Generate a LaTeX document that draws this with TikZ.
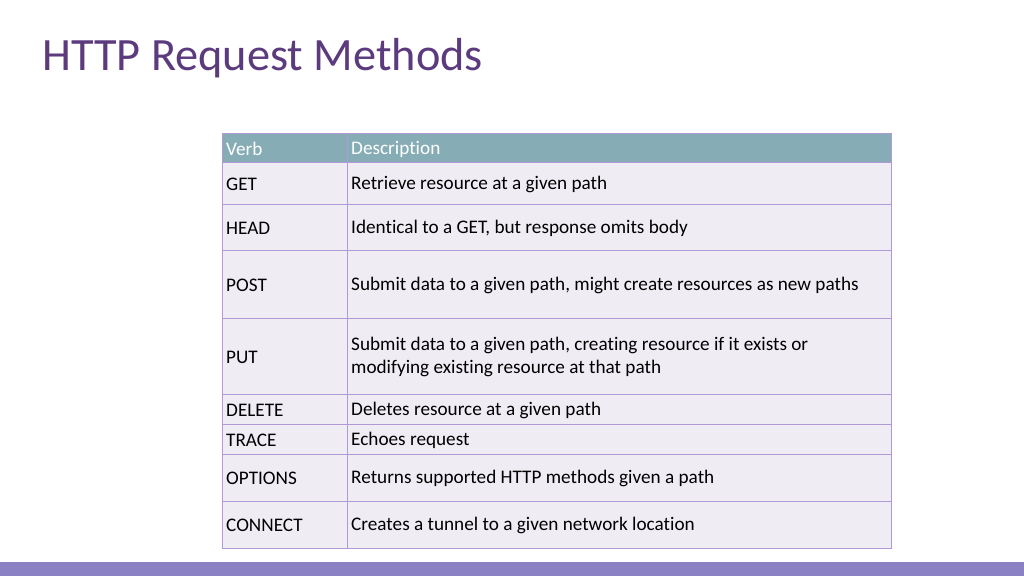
\documentclass[tikz,border=0pt]{standalone}
\usepackage{fontspec}
\setmainfont[RawFeature=-liga]{Carlito}
\definecolor{ttl}{HTML}{5C3A7E}
\definecolor{hdr}{HTML}{86ADB5}
\definecolor{rowf}{HTML}{EFECF4}
\definecolor{brd}{HTML}{B09AD6}
\definecolor{bar}{HTML}{8A80C4}
\begin{document}
\begin{tikzpicture}[x=1pt,y=-1pt,
 cell/.style={fill=rowf,draw=brd,line width=0.8pt},
 hcell/.style={fill=hdr,draw=brd,line width=0.8pt},
 txt/.style={anchor=west,inner sep=0pt,font=\fontsize{19.2}{23}\selectfont,align=left},
 htxt/.style={txt,text=white}]
\useasboundingbox (0,0) rectangle (1024,576);
\fill[white] (0,0) rectangle (1024,576);
\fill[bar] (0,562) rectangle (1024,576);
\node[anchor=base west,inner sep=0pt,text=ttl,font=\fontsize{46.3}{52}\selectfont] (title) at (42,70) {HTTP Request Methods};
\draw[hcell] (222,133) rectangle (347,162);
\draw[hcell] (347,133) rectangle (891,162);
\node[htxt] (h1) at (226,149) {Verb};
\node[htxt] (h2) at (351,149) {Description};
\foreach \a/\b/\v/\d [count=\i] in {
 162/204/GET/Retrieve resource at a given path,
 204/250/HEAD/{Identical to a GET, but response omits body},
 250/318/POST/{Submit data to a given path, might create resources as new paths},
 318/394/PUT/{Submit data to a given path, creating resource if it exists or\\modifying existing resource at that path},
 394/424/DELETE/Deletes resource at a given path,
 424/454/TRACE/Echoes request,
 454/501/OPTIONS/Returns supported HTTP methods given a path,
 501/548/CONNECT/Creates a tunnel to a given network location}{
 \draw[cell] (222,\a) rectangle (347,\b);
 \draw[cell] (347,\a) rectangle (891,\b);
 \node[txt] (v\i) at (226,{(\a+\b)/2+1}) {\v};
 \node[txt] (d\i) at (351,{(\a+\b)/2+1}) {\d};
}
\end{tikzpicture}
\end{document}
